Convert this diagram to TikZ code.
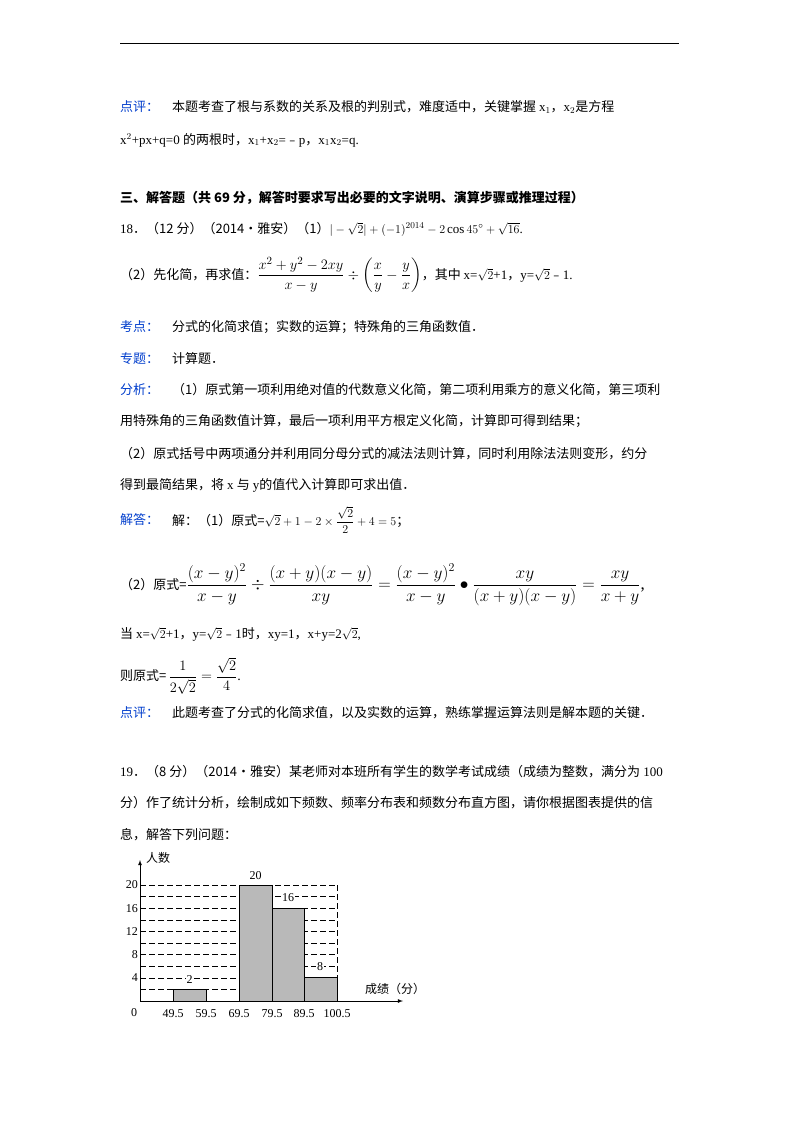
\documentclass[tikz,border=0pt]{standalone}
\usepackage{amsmath}
\usepackage{fontspec}
\setmainfont{Liberation Serif}
\newfontfamily\cjk{Noto Sans CJK SC}
\newcommand{\mn}{{\cjk ﹣}}
\begin{document}
\begin{tikzpicture}[x=1pt,y=-1pt,
 t/.style={anchor=west,inner sep=0pt,font=\fontsize{13}{15}\selectfont},
 lab/.style={t,text=blue!70!cyan!80!black},
 dl/.style={dashed,line width=0.6pt,dash pattern=on 6pt off 3pt},
 bar/.style={draw,fill=gray!55,line width=0.8pt},
 sm/.style={inner sep=0pt,font=\fontsize{12}{14}\selectfont},
 bl/.style={sm,fill=white,inner sep=1pt}]
\useasboundingbox (0,0) rectangle (800,1132);
\draw[line width=0.8pt] (120,43) -- (679,43);
\node[lab] (l1) at (120,107) {\cjk 点评：};
\node[t] (a1) at (172,107) {{\cjk 本题考查了根与系数的关系及根的判别式，难度适中，关键掌握 }x$_1${\cjk ，}x$_2${\cjk 是方程}};
\node[t] (a2) at (120,140) {x$^2$+px+q=0 {\cjk 的两根时，}x$_1$+x$_2$=\mn p{\cjk ，}x$_1$x$_2$=q.};
\node[t] (h) at (120,198) {\cjk\bfseries 三、解答题（共 69 分，解答时要求写出必要的文字说明、演算步骤或推理过程）};
\node[t] (q18) at (120,229) {18{\cjk ．（12 分）（2014•雅安）（1）}$|-\sqrt{2}|+(-1)^{2014}-2\cos45^\circ+\sqrt{16}$.};
\node[t] (q18b) at (120,275) {{\cjk（2）先化简，再求值：}{\fontsize{15}{17}\selectfont$\dfrac{x^2+y^2-2xy}{x-y}\div\left(\dfrac{x}{y}-\dfrac{y}{x}\right)$}{\cjk ，其中 }x=$\sqrt{2}$+1{\cjk ，}y=$\sqrt{2}$\mn 1.};
\node[lab] (kd) at (120,327) {\cjk 考点：};
\node[t] (kd2) at (172,327) {\cjk 分式的化简求值；实数的运算；特殊角的三角函数值．};
\node[lab] (zt) at (120,359) {\cjk 专题：};
\node[t] (zt2) at (172,359) {\cjk 计算题．};
\node[lab] (fx) at (120,390) {\cjk 分析：};
\node[t] (fx1) at (172,390) {\cjk （1）原式第一项利用绝对值的代数意义化简，第二项利用乘方的意义化简，第三项利};
\node[t] (fx2) at (120,421) {\cjk 用特殊角的三角函数值计算，最后一项利用平方根定义化简，计算即可得到结果；};
\node[t] (fx3) at (120,454) {\cjk （2）原式括号中两项通分并利用同分母分式的减法法则计算，同时利用除法法则变形，约分};
\node[t] (fx4) at (120,485) {{\cjk 得到最简结果，将 }x {\cjk 与 }y{\cjk 的值代入计算即可求出值．}};
\node[lab] (jd) at (120,520) {\cjk 解答：};
\node[t] (jd1) at (172,520) {{\cjk 解：（1）原式=}$\sqrt{2}+1-2\times\dfrac{\sqrt{2}}{2}+4=5${\cjk ；}};
\node[t] (jd2) at (120,585) {{\cjk （2）原式=}{\fontsize{17}{19}\selectfont$\dfrac{(x-y)^2}{x-y}\div\dfrac{(x+y)(x-y)}{xy}=\dfrac{(x-y)^2}{x-y}\bullet\dfrac{xy}{(x+y)(x-y)}=\dfrac{xy}{x+y}$,}};
\node[t] (jd3) at (120,634) {{\cjk 当 }x=$\sqrt{2}$+1{\cjk ，}y=$\sqrt{2}$\mn 1{\cjk 时，}xy=1{\cjk ，}x+y=2$\sqrt{2}$,};
\node[t] (jd4) at (120,676) {{\cjk 则原式=}\,{\fontsize{14}{16}\selectfont$\dfrac{1}{2\sqrt{2}}=\dfrac{\sqrt{2}}{4}$.}};
\node[lab] (dp) at (120,713) {\cjk 点评：};
\node[t] (dp2) at (172,713) {\cjk 此题考查了分式的化简求值，以及实数的运算，熟练掌握运算法则是解本题的关键．};
\node[t] (q19) at (120,772) {19{\cjk ．（8 分）（2014•雅安）某老师对本班所有学生的数学考试成绩（成绩为整数，满分为} 100};
\node[t] (q19b) at (120,803) {\cjk 分）作了统计分析，绘制成如下频数、频率分布表和频数分布直方图，请你根据图表提供的信};
\node[t] (q19c) at (120,835) {\cjk 息，解答下列问题：};
% histogram
\foreach \k in {2,4,...,20} \draw[dl] (140,{1001-5.8*\k}) -- (337,{1001-5.8*\k});
\draw[dl] (337,885) -- (337,1001);
\draw[bar] (173,{1001-5.8*2}) rectangle (206,1001);
\draw[bar] (239,885) rectangle (272,1001);
\draw[bar] (272,{1001-5.8*16}) rectangle (304,1001);
\draw[bar] (304,{1001-5.8*4}) rectangle (337,1001);
\coordinate (O) at (140,1001);
\coordinate (yt) at (140,860);
\coordinate (xt) at (403,1001);
\draw[-latex,line width=0.8pt] (O) -- (yt);
\draw[-latex,line width=0.8pt] (O) -- (xt);
\node[sm,anchor=west] (yl) at (146,858) {\cjk 人数};
\node[sm,anchor=west] (xl) at (365,989) {\cjk 成绩（分）};
\foreach \k in {4,8,12,16,20} \node[sm,anchor=east] at (138,{1001-5.8*\k}) {\k};
\node[sm] (z) at (134,1013) {0};
\foreach \v/\x in {49.5/173,59.5/206,69.5/239,79.5/272,89.5/304,100.5/337} \node[sm] at (\x,1014) {\v};
\node[bl] (b1) at (189.5,980) {2};
\node[bl] (b2) at (255.5,876) {20};
\node[bl] (b3) at (288,898) {16};
\node[bl] (b4) at (320,967) {8};
\end{tikzpicture}
\end{document}
